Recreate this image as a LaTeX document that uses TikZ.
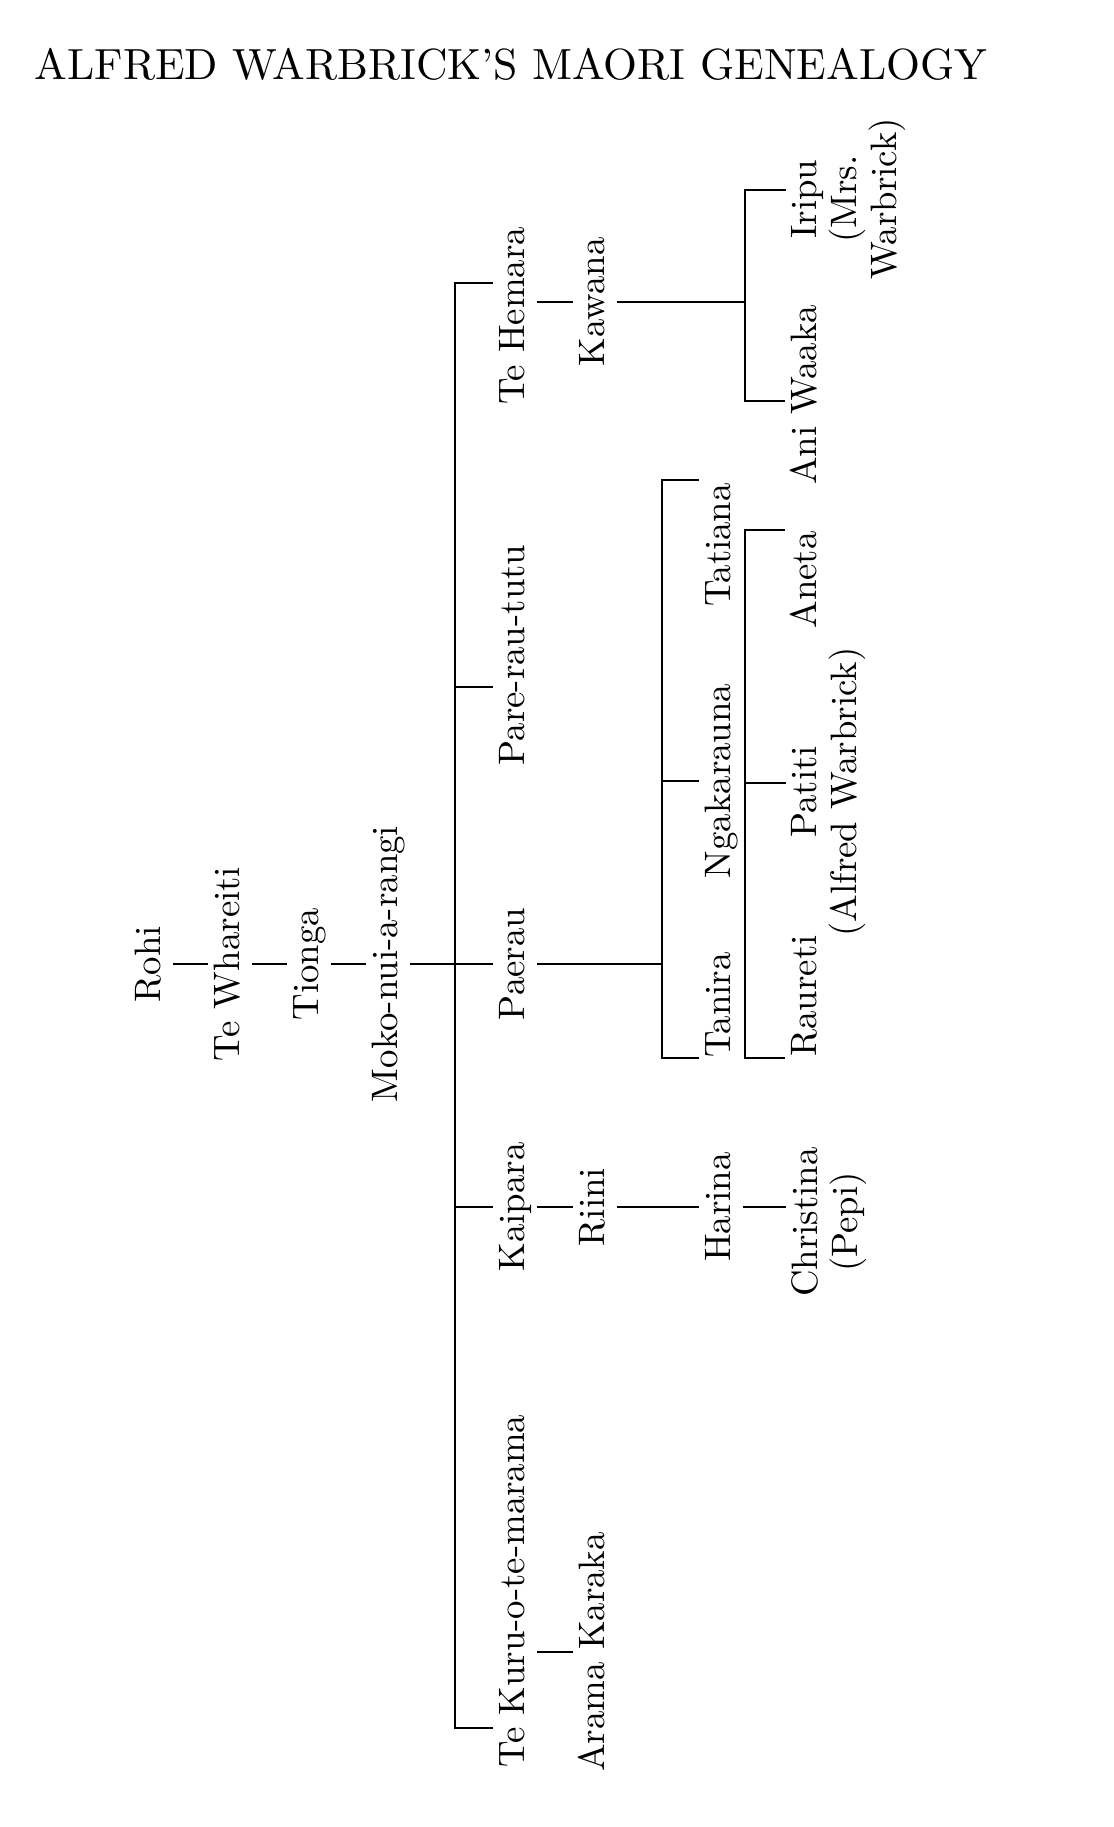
\documentclass[tikz,border=0pt]{standalone}
\usepackage{fontspec}
\setmainfont{lmroman10-regular.otf}
\usepackage{tikz}
\newcommand{\titlefont}{\fontsize{21.8}{24}\selectfont}
\newcommand{\namefont}{\fontsize{18.4}{20}\selectfont}
\tikzset{
  person/.style={rotate=90,anchor=base,inner sep=2.5pt,font=\namefont,
    text height=12.7pt,text depth=3.7pt},
  persons/.style={rotate=90,anchor=north,inner sep=2.5pt,font=\namefont,align=center},
  kin/.style={line width=0.7pt},
}

\begin{document}
\begin{tikzpicture}[x=0.5pt,y=-0.5pt]
  \useasboundingbox (0,0) rectangle (1114,1827);
  \node[font=\titlefont,anchor=base] (title) at (511,79) {ALFRED WARBRICK’S MAORI GENEALOGY};
  % line of descent
  \node[person] (rohi) at (160,964) {Rohi};
  \node[person] (whareiti) at (239,964) {Te Whareiti};
  \node[person] (tionga) at (318,964) {Tionga};
  \node[person] (moko) at (397,964) {Moko-nui-a-rangi};
  % children of Moko-nui-a-rangi
  \node[person] (tehemara) at (524,316) {Te Hemara};
  \node[person] (prt) at (524,655) {Pare-rau-tutu};
  \node[person] (paerau) at (524,964) {Paerau};
  \node[person] (kaipara) at (524,1207) {Kaipara};
  \node[person] (tekuru) at (524,1591) {Te Kuru-o-te-marama};
  % next generation
  \node[person] (kawana) at (604,302) {Kawana};
  \node[person] (riini) at (604,1207) {Riini};
  \node[person] (arama) at (604,1652) {Arama Karaka};
  \node[person] (tatiana) at (730,545) {Tatiana};
  \node[person] (ngakarauna) at (730,781) {Ngakarauna};
  \node[person] (tanira) at (730,1005) {Tanira};
  \node[person] (harina) at (730,1207) {Harina};
  % last generation
  \node[persons] (iripu) at (786,199) {Iripu\\(Mrs.\\Warbrick)};
  \node[person] (aniwaaka) at (816,395) {Ani Waaka};
  \node[person] (aneta) at (816,580) {Aneta};
  \node[persons] (patiti) at (786,792) {Patiti\\(Alfred Warbrick)};
  \node[person] (raureti) at (816,996) {Raureti};
  \node[persons] (christina) at (786,1222) {Christina\\(Pepi)};
  % forks
  \coordinate (trunk-n) at (455,283);
  \coordinate (trunk) at (455,964);
  \coordinate (trunk-s) at (455,1728);
  \coordinate (prt-fork) at (455,687);
  \coordinate (kw-top) at (745,190);
  \coordinate (kw-bot) at (745,401);
  \coordinate (pa-top) at (662,480);
  \coordinate (pa-bot) at (662,1058);
  \coordinate (ng-top) at (745,530);
  \coordinate (ng-mid) at (745,783);
  \coordinate (ng-bot) at (745,1058);
  % connectors
  \draw[kin] (rohi.south) -- (whareiti.north);
  \draw[kin] (whareiti.south) -- (tionga.north);
  \draw[kin] (tionga.south) -- (moko.north);
  \draw[kin] (moko.south) -- (trunk);
  \draw[kin] (tehemara.north |- trunk-n) -- (trunk-n) -- (trunk-s) -- (tekuru.north |- trunk-s);
  \draw[kin] (prt-fork) -- (prt.north |- prt-fork);
  \draw[kin] (trunk) -- (paerau.north);
  \draw[kin] (trunk |- kaipara) -- (kaipara.north);
  \draw[kin] (kaipara.south) -- (riini.north);
  \draw[kin] (riini.south) -- (harina.north);
  \draw[kin] (harina.south) -- (christina.north |- harina.south);
  \draw[kin] (tekuru.south |- arama) -- (arama.north);
  \draw[kin] (tehemara.south |- kawana) -- (kawana.north);
  \draw[kin] (kawana.south) -- (kawana -| kw-top);
  \draw[kin] (iripu.north |- kw-top) -- (kw-top) -- (kw-bot) -- (aniwaaka.north |- kw-bot);
  \draw[kin] (paerau.south) -- (paerau -| pa-top);
  \draw[kin] (tatiana.north |- pa-top) -- (pa-top) -- (pa-bot) -- (tanira.north |- pa-bot);
  \draw[kin] (pa-top |- ngakarauna) -- (ngakarauna.north);
  \draw[kin] (aneta.north |- ng-top) -- (ng-top) -- (ng-bot) -- (raureti.north |- ng-bot);
  \draw[kin] (ng-mid) -- (patiti.north |- ng-mid);
\end{tikzpicture}
\end{document}
